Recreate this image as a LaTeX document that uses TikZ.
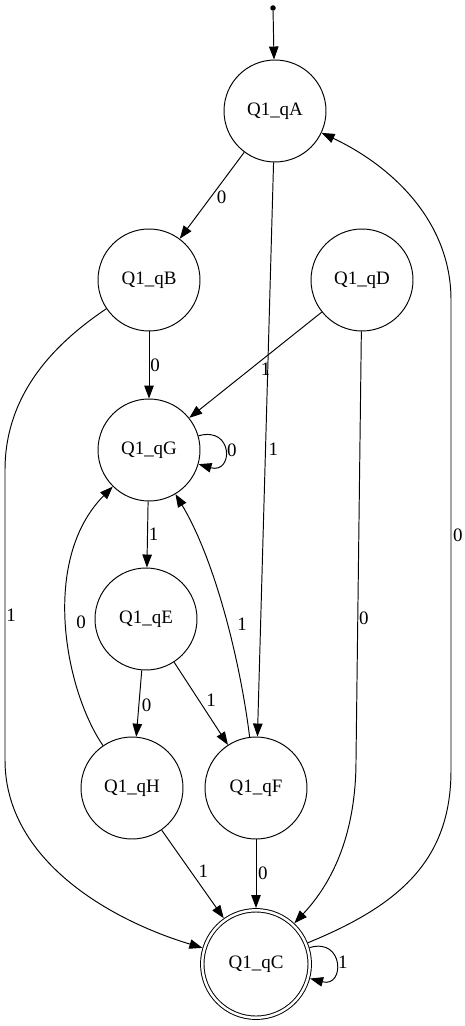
\documentclass[tikz,border=0pt]{standalone}
\usepackage{fontspec}
\setmainfont{Liberation Serif}
\usetikzlibrary{arrows.meta}

\begin{document}
\begin{tikzpicture}[x=0.02cm, y=0.02cm, auto, line width=0.55pt, >={Triangle[length=0.26cm,width=0.19cm]},
  main node/.style={circle,draw,minimum size=2.04cm,inner sep=0pt},
  final node/.style={main node,double,double distance=1.4pt,minimum size=2.15cm,outer sep=0.045cm},
  start node/.style={circle,fill,minimum size=0.11cm,inner sep=0pt}]%
\useasboundingbox (0,0) rectangle (465,-1026);
\begin{scope}[every node/.style={font=\fontsize{10.8}{12}\selectfont}]
\node[start node] (s) at (273,-8) {};
\node[main node] (qA) at (275,-111) {Q1\_qA};
\node[main node] (qB) at (149,-280) {Q1\_qB};
\node[main node] (qD) at (362,-280) {Q1\_qD};
\node[main node] (qG) at (149,-450) {Q1\_qG};
\node[main node] (qE) at (146,-619) {Q1\_qE};
\node[main node] (qH) at (132,-788) {Q1\_qH};
\node[main node] (qF) at (256,-788) {Q1\_qF};
\node[final node] (qC) at (256,-964) {Q1\_qC};
\end{scope}
\begin{scope}[every node/.style={font=\fontsize{10.8}{12}\selectfont,inner sep=1pt}]
\draw[->] (s) edge (qA)
  (qA) edge node[pos=.44,inner sep=0.3pt] {0} (qB)
  (qA) edge node[inner sep=1.5pt] {1} (qF)
  (qB) edge node[inner sep=0.5pt] {0} (qG)
  (qD) edge node[pos=.47,inner sep=0.5pt] {1} (qG)
  (qG) edge[out=16,in=-16,looseness=3.3] node {0} (qG)
  (qG) edge node[inner sep=0.5pt] {1} (qE)
  (qE) edge node[pos=.4] {0} (qH)
  (qE) edge node[pos=.56] {1} (qF)
  (qH) edge node[pos=.56] {1} (qC)
  (qF) edge node {0} (qC)
  (qC) edge[out=17,in=-15,looseness=3] node {1} (qC);
\draw[->] (qB) .. controls (60,-340) and (5,-390) .. (5,-470)
  -- node[inner sep=0.5pt] {1} (5,-760) .. controls (5,-860) and (110,-920) .. (qC);
\draw[->] (qC) .. controls (400,-905) and (451,-860) .. (451,-770)
  -- node[swap] {0} (451,-300) .. controls (451,-220) and (390,-165) .. (qA);
\draw[->] (qD) -- node[pos=.67,inner sep=0.5pt] {0} (356,-760)
  .. controls (356,-830) and (335,-880) .. (qC);
\draw[->] (qH) .. controls (65,-690) and (40,-560) .. (qG) node[pos=.5,swap,inner sep=5.5pt] {0};
\draw[->] (qF) .. controls (240,-660) and (215,-560) .. (qG) node[pos=.4,swap,inner sep=3.5pt] {1};
\end{scope}
\end{tikzpicture}
\end{document}
